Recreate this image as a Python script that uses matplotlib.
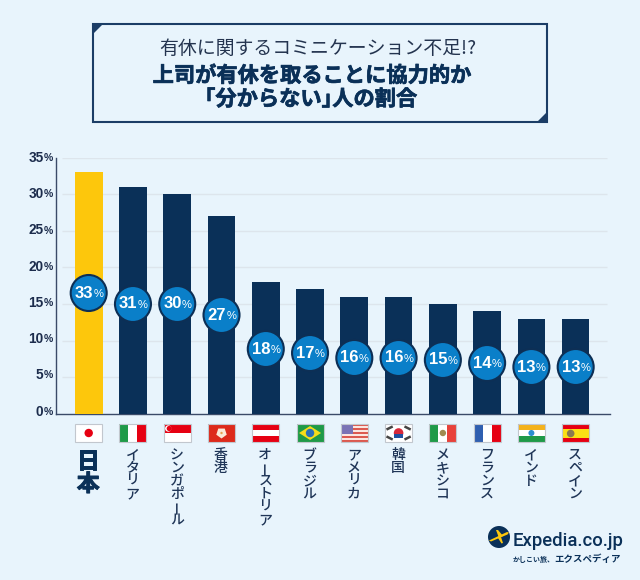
import matplotlib
matplotlib.use("Agg")
import matplotlib.pyplot as plt
import matplotlib.patheffects as pe
from matplotlib.patches import Circle, Polygon, Rectangle, RegularPolygon
from matplotlib.transforms import ScaledTranslation

plt.rcParams['font.family'] = ['Noto Sans CJK JP', 'DejaVu Sans']

# data
countries = ['日本', 'イタリア', 'シンガポール', '香港', 'オーストリア', 'ブラジル',
             'アメリカ', '韓国', 'メキシコ', 'フランス', 'インド', 'スペイン']
values = [33, 31, 30, 27, 18, 17, 16, 16, 15, 14, 13, 13]
y_ticks = [0, 5, 10, 15, 20, 25, 30, 35]
title_top = '有休に関するコミニケーション不足!?'
# half-width brackets, they are set tight in the reference
title_main = ['上司が有休を取ることに協力的か', '｢分からない｣人の割合']

# colours
BG = '#e8f4fc'
NAVY = '#0a3058'
YELLOW = '#fdc70c'
BLUE = '#0a7fc9'
GRID = '#dde5ec'

# badge heights in pixels
badge_y = [293, 304, 304, 315, 349, 353, 358, 358, 360, 363, 367, 367]

fig = plt.figure(figsize=(6.4, 5.8), dpi=100, facecolor=BG)

# chart axes
ax = fig.add_axes([56 / 640, 1 - 414 / 580, (610 - 56) / 640, (414 - 157.5) / 580])
ax.set_facecolor('none')
ax.set_xlim(-0.739, 11.776)
ax.set_ylim(0, 35)
colors = [YELLOW] + [NAVY] * (len(values) - 1)
ax.bar(range(len(values)), values, width=0.625, color=colors, zorder=3)
ax.hlines(y_ticks[1:], -0.6, 11.7, color=GRID, lw=1, zorder=0)
ax.set_yticks(y_ticks)
ax.set_yticklabels([str(t) for t in y_ticks], family='Liberation Sans',
                   fontweight='bold', fontsize=9.8, color='#1c2c4c')
ax.tick_params(axis='y', length=0, pad=9)
ax.set_xticks([])
for s in ['top', 'right']:
    ax.spines[s].set_visible(False)
ax.spines['left'].set_color('#3a4a68')
ax.spines['bottom'].set_color('#3a4a68')
ax.spines['left'].set_linewidth(1)
ax.spines['bottom'].set_linewidth(1)

# the labels sit a little above their grid lines, more so at the bottom
for t, lab in zip(y_ticks, ax.get_yticklabels()):
    up = (4 - t * 3 / 35) / 100
    lab.set_transform(lab.get_transform() + ScaledTranslation(0, up, fig.dpi_scale_trans))
    ax.annotate('%', (0, t), xycoords=('axes fraction', 'data'),
                xytext=(-2.5, up * 72 - 0.5), textcoords='offset points', ha='right',
                va='center_baseline', family='Liberation Sans', fontweight='bold',
                fontsize=7.5, color='#1c2c4c')

# overlay in pixel coordinates
ov = fig.add_axes([0, 0, 1, 1], zorder=5)
ov.set_xlim(0, 640)
ov.set_ylim(580, 0)
ov.axis('off')

# title box
ov.add_patch(Rectangle((93, 24), 454, 98, fc='none', ec='#1b3d66', lw=1.5))
ov.add_patch(Polygon([(92, 23), (104, 23), (92, 35)], fc='#1b3d66', ec='none'))
ov.add_patch(Polygon([(548, 123), (536, 123), (548, 111)], fc='#1b3d66', ec='none'))
ov.text(317.5, 48, title_top, ha='center', va='center', fontsize=13.6, color='#24344f')
thick = [pe.withStroke(linewidth=0.5, foreground=NAVY)]
ov.text(312, 75.5, title_main[0], ha='center', va='center', fontsize=15.3,
        fontweight='bold', color=NAVY, path_effects=thick)
ov.text(311, 99, title_main[1], ha='center', va='center', fontsize=15.3,
        fontweight='bold', color=NAVY, path_effects=thick)

centers = [88.7 + 44.27 * i for i in range(len(values))]

# badges
for cx, cy, v in zip(centers, badge_y, values):
    ov.add_patch(Circle((cx, cy), 18, fc=BLUE, ec='#0d2f55', lw=1.5))
    ov.text(cx + 4.5, cy, str(v), ha='right', va='center', family='Liberation Sans',
            fontweight='bold', fontsize=12, color='white')
    ov.text(cx + 4.7, cy + 1, '%', ha='left', va='center', family='Liberation Sans',
            fontsize=8, color='white')


def flag_box(cx, fc='white'):
    x0 = cx - 13.5
    ov.add_patch(Rectangle((x0, 424), 27, 18, fc=fc, ec='none'))
    return x0, 424, 27, 18


def flag_edge(cx):
    ov.add_patch(Rectangle((cx - 13.5, 424), 27, 18, fc='none', ec='#c2c7ce', lw=0.8))


def hstripes(cx, cols):
    x0, y0, w, h = flag_box(cx)
    for i, c in enumerate(cols):
        ov.add_patch(Rectangle((x0, y0 + h * i / len(cols)), w, h / len(cols), fc=c, ec='none'))


def vstripes(cx, cols):
    x0, y0, w, h = flag_box(cx)
    for i, c in enumerate(cols):
        ov.add_patch(Rectangle((x0 + w * i / len(cols), y0), w / len(cols), h, fc=c, ec='none'))


RED = '#e60012'
# japan
flag_box(centers[0])
ov.add_patch(Circle((centers[0], 433), 4.2, fc=RED, ec='none'))
# italy
vstripes(centers[1], ['#1f9a48', 'white', RED])
# singapore
hstripes(centers[2], [RED, 'white'])
ov.add_patch(Circle((centers[2] - 9, 428.5), 3.2, fc='white', ec='none'))
ov.add_patch(Circle((centers[2] - 8, 428.5), 2.6, fc=RED, ec='none'))
# hong kong
flag_box(centers[3], '#dd2a1b')
ov.add_patch(RegularPolygon((centers[3], 433), 5, radius=5.5, fc='#fbe9d8', ec='none'))
ov.add_patch(Circle((centers[3], 433), 1.2, fc='#e8a050', ec='none'))
# austria
hstripes(centers[4], [RED, 'white', RED])
# brazil
flag_box(centers[5], '#1f9a48')
ov.add_patch(Polygon([(centers[5] - 11, 433), (centers[5], 426), (centers[5] + 11, 433),
                      (centers[5], 440)], fc='#f5dd1a', ec='none'))
ov.add_patch(Circle((centers[5], 433), 4.2, fc='#2a70b8', ec='none'))
# usa
hstripes(centers[6], ['#dc5a50', '#fbe6e0'] * 4 + ['#dc5a50'])
ov.add_patch(Rectangle((centers[6] - 13.5, 424), 12, 9.5, fc='#7a73b5', ec='none'))
# korea
flag_box(centers[7])
ov.add_patch(Circle((centers[7], 433), 4.8, fc='#d8283a', ec='none'))
ov.add_patch(Rectangle((centers[7] - 4.8, 433.6), 9.6, 4.3, fc='#1f4fa0', ec='none'))
for dx, dy in [(-9, -5), (9, -5), (-9, 5), (9, 5)]:
    slope = 1 if dx * dy > 0 else -1
    ov.plot([centers[7] + dx - 2, centers[7] + dx + 2],
            [433 + dy + slope, 433 + dy - slope], color='#444444', lw=1.8)
# mexico
vstripes(centers[8], ['#1f9a48', 'white', '#e8413a'])
ov.add_patch(Circle((centers[8], 433), 3.2, fc='#a08a50', ec='none'))
# france
vstripes(centers[9], ['#2f5fb0', 'white', RED])
# india
hstripes(centers[10], ['#f4b21b', 'white', '#1f9a48'])
ov.add_patch(Circle((centers[10], 433), 3, fc='#2a8ed0', ec='none'))
# spain
hstripes(centers[11], [RED, '#fbe014', '#fbe014', RED])
ov.add_patch(Circle((centers[11] - 5, 433.5), 3.8, fc='#8a7a50', ec='none'))
for cx in centers:
    flag_edge(cx)

# country names, written top to bottom
for i, (cx, name) in enumerate(zip(centers, countries)):
    big = i == 0
    step = 22.5 if big else 13
    y = 462 if big else 455
    for ch in name:
        ov.text(cx - 0.5, y, ch, ha='center', va='center',
                rotation=90 if ch == 'ー' else 0,
                fontsize=16.5 if big else 10,
                fontweight='bold' if big else 'medium',
                color=NAVY if big else '#1f3557',
                path_effects=[pe.withStroke(linewidth=0.7, foreground=NAVY)] if big else None)
        y += step

# logo
ov.add_patch(Circle((499, 537), 11, fc=NAVY, ec='none'))
ov.add_patch(Polygon([(489, 540.5), (507, 532), (509, 532.5), (507.5, 534.5), (491, 541.5)],
                     fc=YELLOW, ec='none'))
ov.add_patch(Polygon([(496, 530), (498, 530), (503, 536), (499, 538)], fc=YELLOW, ec='none'))
ov.add_patch(Polygon([(498, 538), (501, 537), (503, 543), (501.5, 543.5)], fc=YELLOW, ec='none'))
ov.text(513, 541.5, 'Expedia.co.jp', ha='left', va='center', family='Roboto',
        fontweight='medium', fontsize=13.3, color=NAVY)
ov.text(513, 559, 'かしこい旅、', ha='left', va='center', fontsize=5, fontweight='bold',
        color=NAVY)
ov.text(554, 559, 'エクスペディア', ha='left', va='center', fontsize=6.8, fontweight='bold',
        color=NAVY)

fig.savefig('out.png', dpi=100, facecolor=BG)
